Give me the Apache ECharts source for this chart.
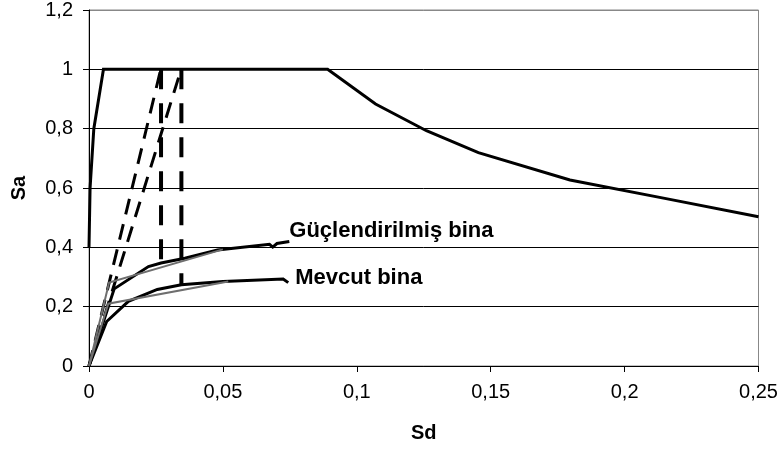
<!DOCTYPE html>
<html>
<head>
<meta charset="utf-8">
<script src="https://cdn.jsdelivr.net/npm/echarts@6/dist/echarts.min.js"></script>
<style>
  html, body { margin: 0; padding: 0; background: #fff; }
  #chart { width: 782px; height: 452px; }
</style>
</head>
<body>
<div id="chart"></div>
<script>
// Axis ticks
const sdTicks = [0, 0.05, 0.1, 0.15, 0.2, 0.25];
const saTicks = [0, 0.2, 0.4, 0.6, 0.8, 1.0, 1.2];

// Demand spectrum [Sd, Sa]
const demandSpectrum = [
  [0, 0.4], [0.0004, 0.6], [0.0018, 0.8], [0.0054, 1.0],
  [0.0891, 1.0], [0.107, 0.883], [0.126, 0.793], [0.1454, 0.719],
  [0.1796, 0.627], [0.215, 0.565], [0.25, 0.503]
];

// Capacity curve, strengthened building
const strengthenedCurve = [
  [0, 0], [0.0094, 0.26], [0.0222, 0.335], [0.0269, 0.347], [0.0358, 0.363],
  [0.048, 0.391], [0.0674, 0.41], [0.0686, 0.401], [0.0702, 0.413], [0.0748, 0.42]
];
// Bilinear idealisation, strengthened building
const strengthenedBilinear = [[0, 0], [0.0075, 0.281], [0.05, 0.393]];

// Capacity curve, existing building
const existingCurve = [
  [0, 0], [0.0066, 0.15], [0.0147, 0.218], [0.0255, 0.258], [0.0345, 0.274],
  [0.05, 0.285], [0.0725, 0.293], [0.0744, 0.281]
];
// Bilinear idealisation, existing building
const existingBilinear = [[0, 0], [0.0072, 0.21], [0.052, 0.285]];

// Elastic period lines and performance-point verticals
const periodLineA = [[0, 0], [0.0268, 1.0]];
const periodLineB = [[0, 0], [0.0344, 1.0]];
const performanceA = [[0.0269, 1.0], [0.0269, 0.347]];
const performanceB = [[0.0345, 1.0], [0.0345, 0.274]];

const seriesNames = ['Güçlendirilmiş bina', 'Mevcut bina'];

const fmt = v => String(+v.toFixed(4)).replace('.', ',');
const font = 'Liberation Sans, Arial, sans-serif';

function line(name, data, color, width, type, z) {
  return {
    name, type: 'line', data, showSymbol: false, symbol: 'none', animation: false,
    lineStyle: { color, width, type: type || 'solid', cap: 'butt', join: 'miter' },
    z: z || 2, silent: true
  };
}

function labelled(s, offset) {
  s.endLabel = {
    show: true, formatter: s.name, distance: 0, offset: offset,
    fontFamily: font, fontWeight: 'bold', fontSize: 22, color: '#000'
  };
  return s;
}

const chart = echarts.init(document.getElementById('chart'), null, { renderer: 'canvas' });
chart.setOption({
  backgroundColor: '#fff',
  animation: false,
  grid: {
    left: 89, right: 23.5, top: 10, bottom: 86, outerBoundsMode: 'none', containLabel: false,
    show: true, borderColor: '#888', borderWidth: 1
  },
  xAxis: {
    type: 'value', min: sdTicks[0], max: sdTicks[sdTicks.length - 1], interval: 0.05,
    name: 'Sd', nameLocation: 'middle', nameGap: 57,
    nameTextStyle: { fontFamily: font, fontWeight: 'bold', fontSize: 20, color: '#000' },
    axisLine: { lineStyle: { color: '#000', width: 1 } },
    axisTick: { show: true, length: 6, lineStyle: { color: '#000' } },
    axisLabel: { formatter: fmt, fontFamily: font, fontSize: 20, color: '#000', margin: 16 },
    splitLine: { show: false }
  },
  yAxis: {
    type: 'value', min: saTicks[0], max: saTicks[saTicks.length - 1], interval: 0.2,
    name: 'Sa', nameLocation: 'middle', nameGap: 60,
    nameTextStyle: { fontFamily: font, fontWeight: 'bold', fontSize: 20, color: '#000' },
    axisLine: { show: true, lineStyle: { color: '#000', width: 1 } },
    axisTick: { show: true, length: 6, lineStyle: { color: '#000' } },
    axisLabel: { formatter: fmt, fontFamily: font, fontSize: 20, color: '#000', margin: 16 },
    splitLine: { show: true, lineStyle: { color: ['#000', '#000', '#000', '#000', '#000', '#000', '#888'], width: 1 } }
  },
  series: [
    line('Talep spektrumu', demandSpectrum, '#000', 3),
    labelled(line(seriesNames[0], strengthenedCurve, '#000', 3), [0, -10]),
    labelled(line(seriesNames[1], existingCurve, '#000', 3), [7, -5]),
    line('bilinear-1', strengthenedBilinear, '#6e6e6e', 2, 'solid', 3),
    line('bilinear-2', existingBilinear, '#6e6e6e', 2, 'solid', 3),
    line('period-A', periodLineA, '#000', 3, [16, 10]),
    line('period-B', periodLineB, '#000', 3, [16, 10]),
    line('perf-A', performanceA, '#000', 4, [20, 14]),
    line('perf-B', performanceB, '#000', 4, [20, 14])
  ]
});
</script>
</body>
</html>
